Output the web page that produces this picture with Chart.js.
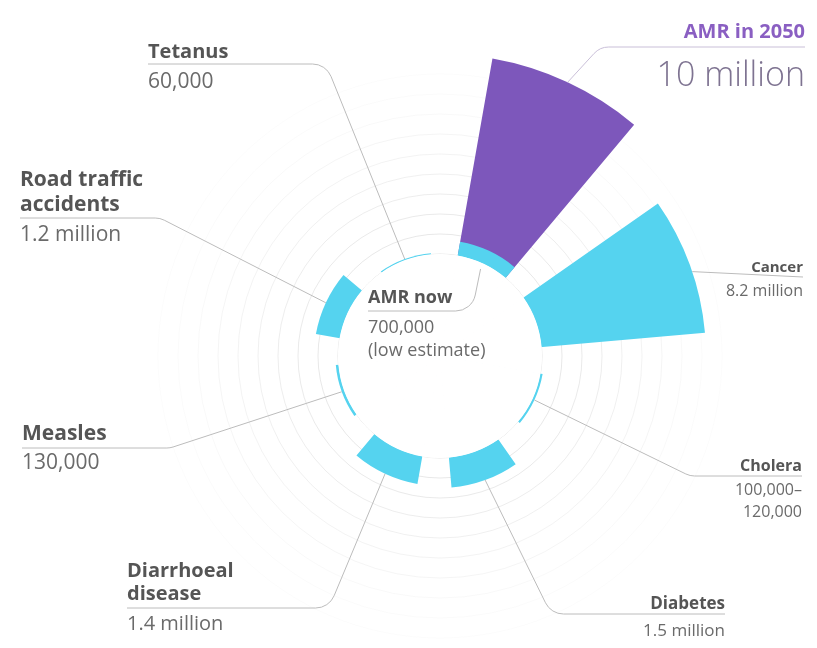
<!DOCTYPE html>
<html>
<head>
<meta charset="utf-8">
<style>
  html, body { margin: 0; padding: 0; background: #fff; }
  #wrap { position: relative; width: 817px; height: 648px; }
</style>
</head>
<body>
<div id="wrap"><canvas id="chart"></canvas></div>
<script src="https://cdn.jsdelivr.net/npm/chart.js@4/dist/chart.umd.min.js"></script>
<script>
// deaths per year, in millions
const categories = ["AMR", "Cancer", "Cholera", "Diabetes", "Diarrhoeal disease", "Measles", "Road traffic accidents", "Tetanus"];
const deathsNow = [0.7, 8.2, 0.11, 1.5, 1.4, 0.13, 1.2, 0.06];
const deaths2050 = [10, null, null, null, null, null, null, null];
// text of the callouts
const titleText = [["AMR now"], ["Cancer"], ["Cholera"], ["Diabetes"], ["Diarrhoeal", "disease"], ["Measles"], ["Road traffic", "accidents"], ["Tetanus"]];
const valueText = [["700,000", "(low estimate)"], ["8.2 million"], ["100,000–", "120,000"], ["1.5 million"], ["1.4 million"], ["130,000"], ["1.2 million"], ["60,000"]];
const futureTitle = "AMR in 2050";
const futureValue = "10 million";

const cyan = "#55d3ef";
const purple = "#7d57bb";

// each category is a 30deg wedge followed by a 15deg gap
const slots = (arr) => arr.flatMap((v) => [v, null]);
const sliceAngles = categories.flatMap(() => [30, 15]);
const holeData = sliceAngles.map(() => 0);

// callout placement (text anchor, rule, bend)
const layout = [
  { cat: 0, ds: 0, inset: 6, x: 368, align: "left", title: 303, rule: 311, bend: 472, value: 333, lh: 23, tSize: 18, vSize: 18 },
  { cat: 1, ds: 1, inset: 0, frac: 0.55, x: 803, align: "right", title: 272, rule: 277, bend: null, value: 296, lh: 22, tSize: 15, vSize: 16 },
  { cat: 2, ds: 1, inset: 0, x: 802, align: "right", title: 471, rule: 476, bend: 690, value: 495, lh: 22, tSize: 16, vSize: 16 },
  { cat: 3, ds: 1, inset: 0, x: 725, align: "right", title: 609, rule: 614, bend: 551, value: 636, lh: 22, tSize: 17, vSize: 17 },
  { cat: 4, ds: 1, inset: 0, x: 127, align: "left", title: 577, rule: 608, bend: 329, value: 630, lh: 23, tSize: 20, vSize: 20 },
  { cat: 5, ds: 1, inset: 0, x: 22, align: "left", title: 440, rule: 448, bend: 170, value: 469, lh: 23, tSize: 21, vSize: 21 },
  { cat: 6, ds: 1, inset: 0, x: 20, align: "left", title: 186, rule: 218, bend: 160, value: 241, lh: 25, tSize: 21, vSize: 21 },
  { cat: 7, ds: 1, inset: 0, x: 148, align: "left", title: 58, rule: 64, bend: 326, value: 88, lh: 23, tSize: 20, vSize: 21 },
];

function anchorPoint(chart, ds, slot, inset, frac) {
  const arc = chart.getDatasetMeta(ds).data[slot];
  const p = arc.getProps(["x", "y", "startAngle", "endAngle", "outerRadius"], true);
  const a = p.startAngle + (frac == null ? 0.5 : frac) * (p.endAngle - p.startAngle);
  const r = p.outerRadius - inset;
  return { x: p.x + r * Math.cos(a), y: p.y + r * Math.sin(a) };
}

function leader(ctx, x, ruleY, bend, pt) {
  ctx.beginPath();
  ctx.moveTo(x, ruleY);
  if (bend != null) {
    ctx.arcTo(bend, ruleY, pt.x, pt.y, 20);
  }
  ctx.lineTo(pt.x, pt.y);
  ctx.stroke();
}

//draws rules and texts around the wheel
const calloutPlugin = {
  id: "callouts",
  afterDraw(chart) {
    const ctx = chart.ctx;
    ctx.save();
    ctx.strokeStyle = "#bcbcbc";
    ctx.lineWidth = 1;
    ctx.textBaseline = "alphabetic";

    layout.forEach((c) => {
      const pt = anchorPoint(chart, c.ds, c.cat * 2, c.inset, c.frac);
      leader(ctx, c.x, c.rule, c.bend, pt);
      ctx.textAlign = c.align;
      ctx.fillStyle = "#555555";
      ctx.font = `bold ${c.tSize}px "Open Sans"`;
      titleText[c.cat].forEach((t, k) => ctx.fillText(t, c.x, c.title + k * c.lh));
      ctx.fillStyle = "#6a6a6a";
      ctx.font = `${c.vSize}px "Open Sans"`;
      valueText[c.cat].forEach((t, k) => ctx.fillText(t, c.x, c.value + k * c.lh));
    });

    // AMR in 2050
    const top = anchorPoint(chart, 2, 0, 0);
    ctx.strokeStyle = "#c9bfd8";
    leader(ctx, 805, 47, 600, top);
    ctx.textAlign = "right";
    ctx.fillStyle = "#8a5fc2";
    ctx.font = 'bold 20px "Open Sans"';
    ctx.fillText(futureTitle, 805, 38);
    ctx.fillStyle = "#7e7391";
    ctx.font = '300 34px "Open Sans"';
    ctx.fillText(futureValue, 805, 86);
    ctx.restore();
  },
};

let myChart = new Chart(document.getElementById("chart"), {
  type: "polarArea",
  plugins: [calloutPlugin],
  data: {
    labels: categories.flatMap((c) => [c, ""]),
    datasets: [
      //white hole in the middle, drawn on top; white inner border hides the seams
      { data: holeData, backgroundColor: "#ffffff", borderColor: "#ffffff", borderWidth: 2, borderAlign: "inner", clip: false },
      { data: slots(deathsNow), backgroundColor: cyan, borderWidth: 0, clip: false },
      { data: slots(deaths2050), backgroundColor: purple, borderWidth: 0, clip: false },
    ],
  },
  options: {
    responsive: true,
    maintainAspectRatio: false,
    animation: false,
    layout: { padding: { left: 150, right: 87, top: 66, bottom: 2 } },
    elements: {
      arc: { angle: (ctx) => sliceAngles[ctx.dataIndex] },
    },
    plugins: {
      legend: { display: false },
      tooltip: { enabled: false },
    },
    scales: {
      r: {
        min: -5.1,
        max: 9.4,
        startAngle: 10,
        ticks: { display: false, stepSize: 1 },
        angleLines: { display: false },
        pointLabels: { display: false },
        grid: {
          lineWidth: 1,
          color: (ctx) => {
            const v = ctx.tick ? ctx.tick.value : -1;
            if (v < 0 || Math.abs(v - Math.round(v)) > 0.01) return "rgba(0,0,0,0)";
            const a = Math.max(0.02, 0.16 - v * 0.017);
            return `rgba(90,90,90,${a})`;
          },
        },
      },
    },
  },
});
</script>
</body>
</html>
